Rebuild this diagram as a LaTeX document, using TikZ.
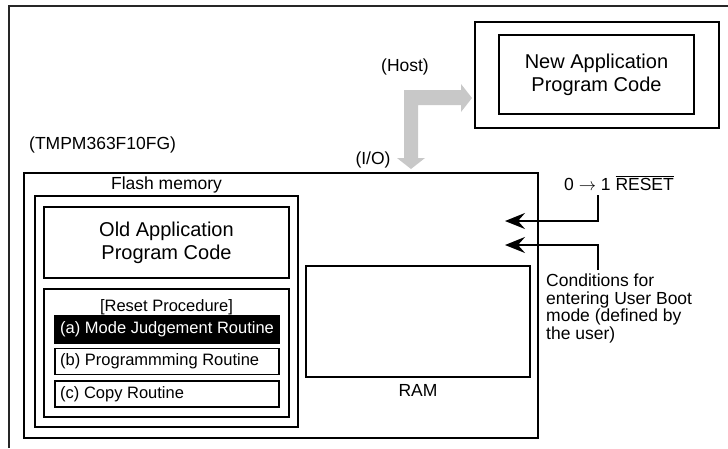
\documentclass[tikz,border=0pt]{standalone}
\usepackage{fontspec}
\setmainfont{Liberation Sans}
\usetikzlibrary{arrows.meta}
\definecolor{arrowgray}{RGB}{200,200,200}
\begin{document}
\begin{tikzpicture}[x=1pt,y=-1pt,
  box/.style={draw=black, line width=1.6pt, rectangle, inner sep=0pt, outer sep=0pt},
  lbl/.style={inner sep=0pt, font=\fontsize{17.5}{17.5}\selectfont},
  big/.style={inner sep=0pt, align=center, font=\fontsize{20}{23}\selectfont},
  small/.style={inner sep=0pt, font=\fontsize{16.5}{18}\selectfont},
  sig/.style={line width=1.6pt, -{Stealth[length=20pt,width=16pt,inset=7pt]}}
]
\useasboundingbox (0,0) rectangle (728,448);
% outer frame
\draw[line width=1.9pt, draw=black!85] (9,448) -- (9,6) -- (728,6);

% host side
\node[box, minimum width=244pt, minimum height=106pt] (newout) at (597,75) {};
\node[box, minimum width=195pt, minimum height=79pt] (newin) at (596.5,74.5) {};
\node[big] (newtxt) at (596.5,75) {New Application\\Program Code};
\node[lbl] (host) at (405,67) {(Host)};

% gray transfer arrow
\fill[arrowgray] (411,169) -- (425,158) -- (418,158) -- (418,105) -- (461,105)
  -- (461,112) -- (472,98) -- (461,84) -- (461,90) -- (404,90) -- (404,158)
  -- (397,158) -- cycle;
\node[lbl] (io) at (373,160) {(I/O)};

% chip
\node[lbl, anchor=west] (chipname) at (29,145) {(TMPM363F10FG)};
\node[box, minimum width=514pt, minimum height=265pt] (chip) at (281,305.5) {};
\node[lbl] (flashlbl) at (166.5,185) {Flash memory};
\node[box, minimum width=263pt, minimum height=231pt] (flash) at (166.5,311.5) {};
\node[box, minimum width=245pt, minimum height=71pt] (old) at (166.5,242.5) {};
\node[big] (oldtxt) at (166.5,243) {Old Application\\Program Code};
\node[box, minimum width=245pt, minimum height=128pt] (reset) at (166.5,353) {};
\node[small] (resettxt) at (166.5,307) {[Reset Procedure]};
\node[box, fill=black, minimum width=224pt, minimum height=27pt] (ra) at (167,329.5) {};
\node[small, anchor=west, text=white] (ratxt) at (60,329.5) {(a) Mode Judgement Routine};
\node[box, minimum width=224pt, minimum height=26pt] (rb) at (167,361.5) {};
\node[small, anchor=west] (rbtxt) at (60,361.5) {(b) Programmming Routine};
\node[box, minimum width=224pt, minimum height=26pt] (rc) at (167,394) {};
\node[small, anchor=west] (rctxt) at (60,394) {(c) Copy Routine};
\node[box, minimum width=224pt, minimum height=111pt] (ram) at (418,321.5) {};
\node[lbl] (ramtxt) at (418,390) {RAM};

% signals
\node[lbl] (rst) at (619,183) {0 $\rightarrow$ 1 $\overline{\mbox{RESET}}$};
\coordinate (r1) at (598,195);
\coordinate (t1) at (505,221);
\draw[sig] (r1) |- (t1);
\node[lbl, anchor=north west, align=left] (cond) at (546,274)
  {Conditions for\\entering User Boot\\mode (defined by\\the user)};
\coordinate (c1) at (598,270);
\coordinate (t2) at (505,245);
\draw[sig] (c1) |- (t2);
\end{tikzpicture}
\end{document}
